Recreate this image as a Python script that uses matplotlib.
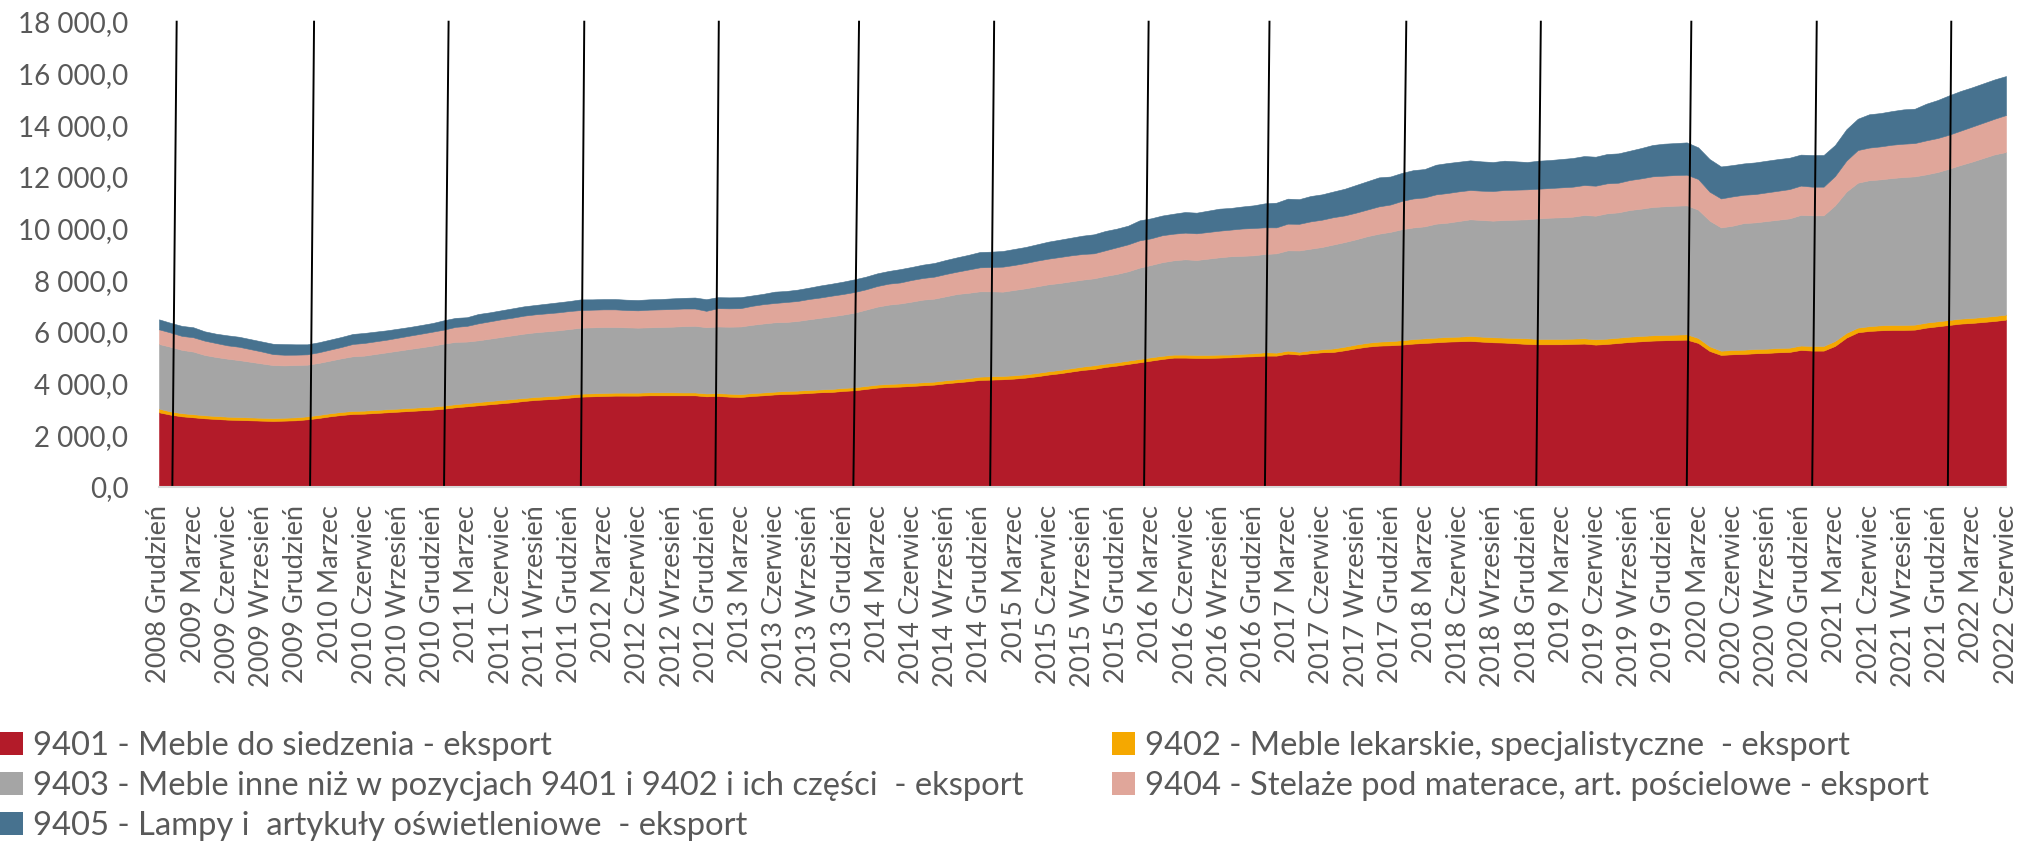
import numpy as np
import matplotlib
matplotlib.use('Agg')
import matplotlib.pyplot as plt
from matplotlib.ticker import FuncFormatter
from matplotlib.patches import Patch

plt.rcParams['font.family'] = ['Lato', 'DejaVu Sans']

# miesiące od 2008 Grudzień do 2022 Czerwiec (163 punkty)
s9401 = [2889, 2799, 2734, 2696, 2657, 2631, 2606, 2593, 2580, 2567, 2554, 2567, 2580, 2618, 2670, 2734, 2786, 2825, 2837, 2863,
         2889, 2915, 2941, 2966, 2992, 3031, 3082, 3120,
         3160, 3199, 3238, 3276, 3328, 3367, 3392, 3418, 3457, 3495, 3508, 3521, 3534, 3534, 3534, 3547, 3547, 3547, 3547, 3547,
         3508, 3521, 3495, 3482, 3521, 3547, 3580,
         3600, 3613, 3638, 3664, 3677, 3716, 3742, 3793, 3845, 3871, 3884, 3909, 3935, 3961, 4012, 4051, 4090, 4141, 4154, 4167,
         4193, 4231, 4283, 4348, 4399, 4464, 4528,
         4567, 4644, 4696, 4760, 4824, 4889, 4953, 5005, 5005, 4992, 4992, 5005, 5018, 5043, 5056, 5082, 5082, 5160, 5121, 5172,
         5211, 5224, 5289, 5366, 5430, 5469, 5482,
         5508, 5547, 5572, 5598, 5624, 5637, 5650, 5624, 5598, 5586, 5560, 5534, 5521, 5521, 5521, 5534, 5547, 5508, 5534, 5572,
         5611, 5637, 5663, 5676, 5688, 5701,
         5572, 5263, 5108, 5134, 5147, 5173, 5186, 5211, 5224, 5302, 5276, 5276, 5457, 5779, 5985, 6036, 6062, 6075, 6075, 6088,
         6165, 6217, 6268, 6320, 6346, 6384, 6423, 6475]

s9402 = [142, 125, 122, 120, 118, 116, 115, 113, 112, 112, 112, 113, 115, 116, 118, 118, 118, 118, 118, 118,
         118, 118, 118, 118, 118, 120, 122, 126,
         129, 129, 129, 129, 116, 116, 116, 116, 116, 116, 116, 116, 116, 116, 116, 116, 116, 116, 110, 110,
         110, 110, 116, 110, 110, 110, 110,
         116, 116, 116, 110, 116, 116, 116, 116, 116, 116, 122, 116, 116, 116, 116, 116, 122, 129, 129, 129,
         129, 129, 129, 129, 129, 129, 129,
         142, 129, 129, 129, 129, 129, 122, 116, 116, 116, 116, 116, 105, 110, 116, 130, 116, 116, 110, 116,
         116, 135, 140, 145, 150, 155, 160,
         170, 175, 180, 180, 180, 180, 193, 193, 193, 193, 206, 219, 206, 206, 206, 206, 206, 206, 206, 206,
         206, 206, 206, 206, 206, 206,
         193, 180, 165, 165, 165, 165, 165, 165, 165, 170, 180, 180, 193, 185, 180, 185, 193, 193, 193, 193,
         193, 193, 193, 193, 193, 193, 193, 193]

s9403 = [2501, 2501, 2449, 2423, 2333, 2282, 2243, 2204, 2153, 2101, 2050, 2024, 2024, 1998, 2011, 2037, 2075, 2114, 2127, 2166,
         2204, 2243, 2282, 2320, 2359, 2398, 2410, 2380,
         2385, 2410, 2436, 2462, 2488, 2501, 2514, 2526, 2539, 2552, 2552, 2552, 2539, 2526, 2514, 2514, 2526, 2539, 2565, 2578,
         2565, 2578, 2591, 2617, 2642, 2668, 2681,
         2668, 2694, 2733, 2771, 2810, 2836, 2887, 2952, 3016, 3068, 3094, 3145, 3197, 3210, 3248, 3300, 3300, 3300, 3287, 3261,
         3300, 3326, 3351, 3364, 3364, 3364, 3364,
         3364, 3390, 3416, 3455, 3532, 3571, 3622, 3648, 3687, 3674, 3725, 3764, 3803, 3790, 3790, 3803, 3841, 3880, 3919, 3931,
         3957, 4022, 4047, 4073, 4125, 4176, 4228,
         4292, 4318, 4331, 4408, 4421, 4473, 4512, 4512, 4512, 4550, 4576, 4602, 4666, 4692, 4705, 4718, 4769, 4782, 4847, 4847,
         4898, 4924, 4963, 4976, 4988, 4988,
         4963, 4860, 4769, 4808, 4898, 4898, 4937, 4963, 5001, 5053, 5053, 5053, 5246, 5465, 5607, 5646, 5646, 5684, 5723, 5736,
         5736, 5775, 5852, 5942, 6045, 6149, 6252, 6290]

s9404 = [567, 554, 541, 554, 554, 541, 516, 516, 490, 464, 425, 412, 400, 400, 412, 425, 438, 477, 490, 490,
         490, 503, 516, 528, 541, 541, 580, 606,
         657, 670, 683, 683, 696, 696, 696, 696, 696, 683, 683, 683, 683, 670, 670, 683, 683, 683, 683, 670,
         632, 709, 709, 709, 735, 748, 748,
         773, 773, 786, 786, 799, 799, 799, 786, 799, 812, 812, 838, 838, 851, 864, 864, 902, 928, 941, 967,
         967, 980, 993, 993, 1005, 1005, 993,
         967, 993, 1031, 1044, 1057, 1031, 1044, 1031, 1031, 1031, 1031, 1031, 1031, 1057, 1057, 1031, 1005, 1031, 1031, 1057,
         1057, 1057, 1031, 1031, 1031, 1057, 1057,
         1096, 1121, 1121, 1134, 1147, 1147, 1134, 1134, 1147, 1160, 1160, 1160, 1147, 1147, 1160, 1160, 1160, 1160, 1160, 1147,
         1160, 1173, 1186, 1186, 1186, 1186,
         1186, 1121, 1121, 1134, 1096, 1096, 1109, 1121, 1134, 1134, 1109, 1109, 1134, 1199, 1263, 1263, 1276, 1289, 1289, 1289,
         1315, 1315, 1315, 1328, 1353, 1366, 1379, 1431]

s9405 = [387, 374, 387, 387, 361, 361, 387, 387, 387, 387, 400, 412, 400, 387, 387, 387, 387, 387, 387, 374,
         361, 348, 335, 335, 335, 361, 348, 335,
         361, 348, 348, 361, 361, 361, 374, 387, 387, 412, 400, 400, 400, 400, 400, 400, 400, 412, 412, 425,
         451, 425, 425, 425, 400, 400, 438,
         425, 438, 438, 464, 464, 477, 490, 490, 490, 490, 516, 503, 516, 528, 541, 554, 567, 593, 593, 606,
         619, 619, 632, 657, 670, 683, 709,
         735, 748, 722, 722, 773, 773, 761, 773, 799, 799, 825, 851, 838, 851, 877, 928, 954, 967, 954, 980,
         980, 993, 1031, 1070, 1096, 1121, 1083,
         1083, 1096, 1096, 1147, 1160, 1147, 1147, 1134, 1121, 1134, 1096, 1057, 1083, 1083, 1096, 1109, 1121, 1121, 1134, 1134,
         1134, 1173, 1212, 1237, 1237, 1250,
         1225, 1263, 1237, 1212, 1212, 1225, 1225, 1225, 1212, 1199, 1225, 1225, 1199, 1212, 1212, 1289, 1289, 1302, 1328, 1328,
         1418, 1469, 1521, 1534, 1521, 1521, 1521, 1508]

series_names = ['9401 - Meble do siedzenia - eksport',
                '9402 - Meble lekarskie, specjalistyczne  - eksport',
                '9403 - Meble inne niż w pozycjach 9401 i 9402 i ich części  - eksport',
                '9404 - Stelaże pod materace, art. pościelowe - eksport',
                '9405 - Lampy i  artykuły oświetleniowe  - eksport']
colors = ['#B31B29', '#F5A800', '#A5A5A5', '#E0A69A', '#47728F']

month_names = ['Styczeń', 'Luty', 'Marzec', 'Kwiecień', 'Maj', 'Czerwiec', 'Lipiec',
               'Sierpień', 'Wrzesień', 'Październik', 'Listopad', 'Grudzień']
start_year, start_month = 2008, 12

# ręcznie dorysowane pionowe kreski (przełom roku), w jednostkach miesięcy
year_marks_top = [1.55, 13.6, 25.4, 37.3, 49.1, 61.4, 73.25, 86.8, 97.4, 109.4, 121.2, 134.4, 145.4, 157.2]
year_marks_bottom = [1.17, 13.25, 25.0, 37.0, 48.8, 60.9, 72.9, 86.4, 97.0, 108.9, 120.8, 134.0, 145.0, 156.9]

data = [s9401, s9402, s9403, s9404, s9405]
for s in data:
    if len(s) != len(s9401):
        raise ValueError('zla dlugosc serii: %d' % len(s))

n = len(s9401)
labels = []
for i in range(n):
    m = start_month - 1 + i
    labels.append(f"{start_year + m // 12} {month_names[m % 12]}")
x = np.arange(n)

fig = plt.figure(figsize=(20.27, 8.43), dpi=100)
ax = fig.add_axes([159 / 2027, 1 - 487 / 843, (2006 - 159) / 2027, (487 - 21.7) / 843])

ax.stackplot(x, *data, colors=colors, linewidth=0.4)
for c in ax.collections:
    c.set_edgecolor(c.get_facecolor())

for t, b in zip(year_marks_top, year_marks_bottom):
    ax.plot([b, t], [0, 18000], color='black', linewidth=1.4, clip_on=False, zorder=5)

ax.set_xlim(0, n - 1)
ax.set_ylim(0, 18000)
ax.set_yticks(np.arange(0, 18001, 2000))
ax.yaxis.set_major_formatter(FuncFormatter(lambda v, p: f"{v:,.1f}".replace(',', ' ').replace('.', ',')))

ticks = x[::3]
ax.set_xticks(ticks)
ax.set_xticklabels([labels[i] for i in ticks], rotation=90)

ax.tick_params(axis='y', length=0, pad=22, labelsize=20, labelcolor='#595959')
ax.tick_params(axis='x', length=0, pad=13, labelsize=19.5, labelcolor='#595959')

for side in ['top', 'right', 'left']:
    ax.spines[side].set_visible(False)
ax.spines['bottom'].set_color('#D9D9D9')
ax.spines['bottom'].set_linewidth(1.5)
ax.spines['bottom'].set_zorder(6)

# legenda: kolejność wierszami jak w Excelu
order = [0, 2, 4, 1, 3]
handles = [Patch(facecolor=colors[k], edgecolor='none') for k in order]
fig.legend(handles, [series_names[k] for k in order], ncol=2, loc='upper left',
           bbox_to_anchor=(0.0, 1 - 731 / 843), frameon=False, fontsize=23.6,
           handlelength=0.7, handleheight=0.7, handletextpad=0.3,
           labelspacing=0.3, columnspacing=2.7, borderpad=0, borderaxespad=0,
           labelcolor='#595959')

fig.savefig('out.png', dpi=100)
